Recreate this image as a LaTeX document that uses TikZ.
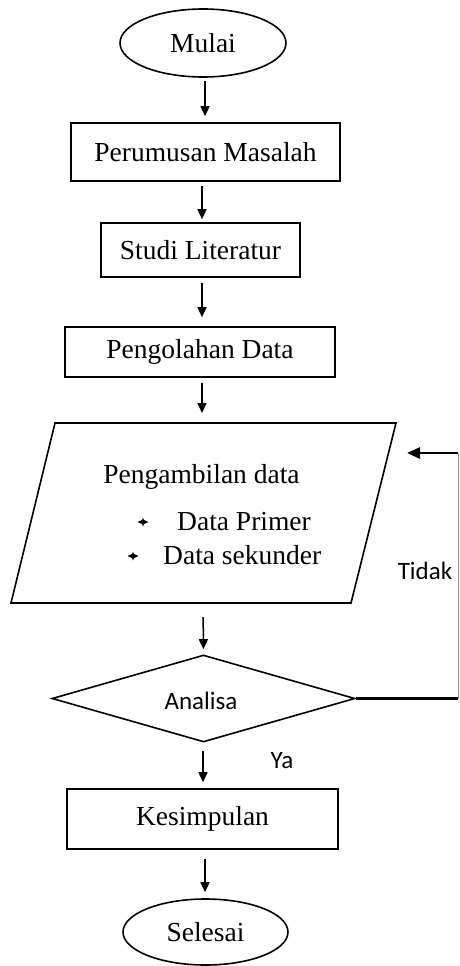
\documentclass[tikz,border=0pt]{standalone}
\usepackage{fontspec}
\setmainfont{Liberation Serif}
\newfontfamily\calib{Carlito}
\usetikzlibrary{arrows.meta,shapes.geometric}
\begin{document}
\begin{tikzpicture}[x=1pt,y=-1pt,
  every node/.style={font=\fontsize{27.5}{33}\selectfont},
  boxnode/.style={draw,line width=1.6pt,inner sep=0pt},
  termnode/.style={draw,ellipse,line width=1.6pt,inner sep=0pt},
  arr/.style={line width=1.5pt,-{Triangle[length=10pt,width=9pt]}},
  sans/.style={font=\calib\fontsize{25}{30}\selectfont},
  bul/.style={fill=black},
  fbthick/.style={line width=2.8pt},
  fbthin/.style={line width=1pt,draw=black!45}]
\useasboundingbox (0,0) rectangle (459,966);
% terminals
\node[termnode,minimum width=166pt,minimum height=68pt] (mulai) at (203,43) {Mulai};
\node[termnode,minimum width=165pt,minimum height=66pt] (selesai) at (205.5,932) {Selesai};
% boxes
\node[boxnode,minimum width=269pt,minimum height=58pt] (perum) at (205.5,152) {Perumusan Masalah};
\node[boxnode,minimum width=199pt,minimum height=54pt] (studi) at (200.5,250) {Studi Literatur};
\node[boxnode,minimum width=270pt,minimum height=50pt] (olah) at (200,352) {Pengolahan Data};
\node[boxnode,minimum width=271pt,minimum height=60pt] (kesim) at (202.5,819) {Kesimpulan};
% parallelogram
\coordinate (pTL) at (55,423);
\coordinate (pTR) at (396,423);
\coordinate (pBR) at (351,603);
\coordinate (pBL) at (11,603);
\draw[line width=1.6pt,line join=miter] (pTL) -- (pTR) -- (pBR) -- (pBL) -- cycle;
\coordinate (paraTop) at (203,423);
\coordinate (paraBot) at (203,603);
\coordinate (paraRight) at (407,453);
\node[anchor=base] (pt1) at (201.5,483) {Pengambilan data};
\node[anchor=base west,inner sep=0pt] (pt2) at (177,530) {Data Primer};
\node[anchor=base west,inner sep=0pt] (pt3) at (163,564) {Data sekunder};
\fill[bul] (137.5,522) -- (143,519.5) -- (148.5,522) -- (143,524.5) -- cycle;
\fill[bul] (143,517.5) -- (144.5,522) -- (143,526.5) -- (141.5,522) -- cycle;
\fill[bul] (127.5,556) -- (133,553.5) -- (138.5,556) -- (133,558.5) -- cycle;
\fill[bul] (133,551.5) -- (134.5,556) -- (133,560.5) -- (131.5,556) -- cycle;
% decision
\node[draw,diamond,line width=1.6pt,minimum width=303pt,minimum height=87pt,inner sep=0pt] (dia) at (203.5,698.5) {};
\node[sans] (anl) at (201,701) {Analisa};
% feedback loop
\coordinate (fbA) at (458,698.5);
\coordinate (fbB) at (458,453);
\draw[fbthick] (dia.east) -- (fbA);
\draw[fbthin] (fbA) -- (fbB);
\draw[fbthick,-{Triangle[length=13pt,width=11pt]}] (fbB) -- (paraRight);
\node[sans] (tidak) at (425,571) {Tidak};
\node[sans] (ya) at (282,761) {Ya};
% main arrows
\draw[arr,shorten <=3pt,shorten >=6pt] (mulai.south -| 205,0) -- (perum.north -| 205,0);
\draw[arr,shorten <=4pt,shorten >=3pt] (perum.south -| 202,0) -- (studi.north -| 202,0);
\draw[arr,shorten <=5pt,shorten >=9pt] (studi.south -| 202,0) -- (olah.north -| 202,0);
\draw[arr,shorten <=5pt,shorten >=10pt] (olah.south -| 202,0) -- (paraTop -| 202,0);
\draw[arr,shorten <=14pt,shorten >=5pt] (paraBot) -- (dia.north);
\draw[arr,shorten <=8pt,shorten >=6pt] (dia.south -| 203,0) -- (kesim.north -| 203,0);
\draw[arr,shorten <=9pt,shorten >=6pt] (kesim.south -| 205,0) -- (selesai.north -| 205,0);
\end{tikzpicture}
\end{document}
